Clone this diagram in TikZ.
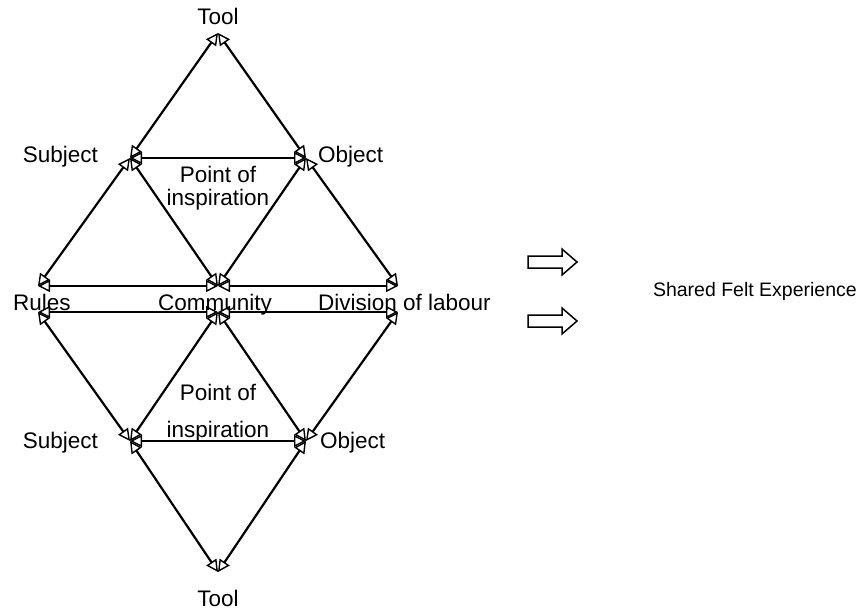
\documentclass[tikz,border=0pt]{standalone}
\usepackage{fontspec}
\setmainfont{Liberation Sans}
\usetikzlibrary{arrows.meta}
\begin{document}
\begin{tikzpicture}[x=1pt,y=-1pt,
  link/.style={line width=2.2pt,
    {Triangle[open,length=12pt,width=12pt,line width=1.4pt]}-{Triangle[open,length=12pt,width=12pt,line width=1.4pt]}},
  lbl/.style={font=\fontsize{22.5}{24}\selectfont,inner sep=0pt},
  blockarrow/.style={draw,line width=1.5pt,line join=miter}]
\useasboundingbox (0,0) rectangle (861,610);
% vertices of the upper triangle network
\coordinate (T1) at (218,33);
\coordinate (S1) at (130,158);
\coordinate (O1) at (306,158);
\coordinate (R1) at (38,286);
\coordinate (C1) at (218,286);
\coordinate (D1) at (398,286);
% vertices of the lower triangle network
\coordinate (R2) at (38,312);
\coordinate (C2) at (218,312);
\coordinate (D2) at (398,312);
\coordinate (S2) at (130,441);
\coordinate (O2) at (306,441);
\coordinate (T2) at (218,572);
% upper links
\draw[link] (T1) -- (S1);
\draw[link] (T1) -- (O1);
\draw[link] (S1) -- (O1);
\draw[link] (S1) -- (R1);
\draw[link] (S1) -- (C1);
\draw[link] (O1) -- (C1);
\draw[link] (O1) -- (D1);
\draw[link] (R1) -- (C1);
\draw[link] (D1) -- (C1);
% lower links
\draw[link] (R2) -- (C2);
\draw[link] (D2) -- (C2);
\draw[link] (R2) -- (S2);
\draw[link] (C2) -- (S2);
\draw[link] (C2) -- (O2);
\draw[link] (D2) -- (O2);
\draw[link] (S2) -- (O2);
\draw[link] (T2) -- (S2);
\draw[link] (T2) -- (O2);
% labels
\node[lbl] (tooltop) at (218,16) {Tool};
\node[lbl,anchor=east] (subjtop) at (98,157) {Subject};
\node[lbl,anchor=west] (objtop) at (318,157) {Object};
\node[lbl] (poitop) at (218,174) {Point of};
\node[lbl] (insptop) at (218,200) {inspiration};
\node[lbl,anchor=base west] (rules) at (13,310) {Rules};
\node[lbl,anchor=base] (community) at (215,310) {Community};
\node[lbl,anchor=base west] (division) at (318,310) {Division of labour};
\node[lbl] (poibot) at (218,392) {Point of};
\node[lbl] (inspbot) at (218,432) {inspiration};
\node[lbl,anchor=east] (subjbot) at (98,443) {Subject};
\node[lbl,anchor=west] (objbot) at (320,443) {Object};
\node[lbl] (toolbot) at (218,598) {Tool};
% outcome: two block arrows pointing at the shared experience
\coordinate (arrA) at (528,262);
\coordinate (arrB) at (528,321);
\foreach \a in {arrA,arrB}
  \draw[blockarrow,shift={(\a)}] (0,-6) -- (34,-6) -- (34,-13) -- (49,0)
    -- (34,13) -- (34,6) -- (0,6) -- cycle;
\node[lbl,anchor=east,font=\fontsize{19.5}{24}\selectfont] (shared) at (857,291) {Shared Felt Experience};
\end{tikzpicture}
\end{document}
